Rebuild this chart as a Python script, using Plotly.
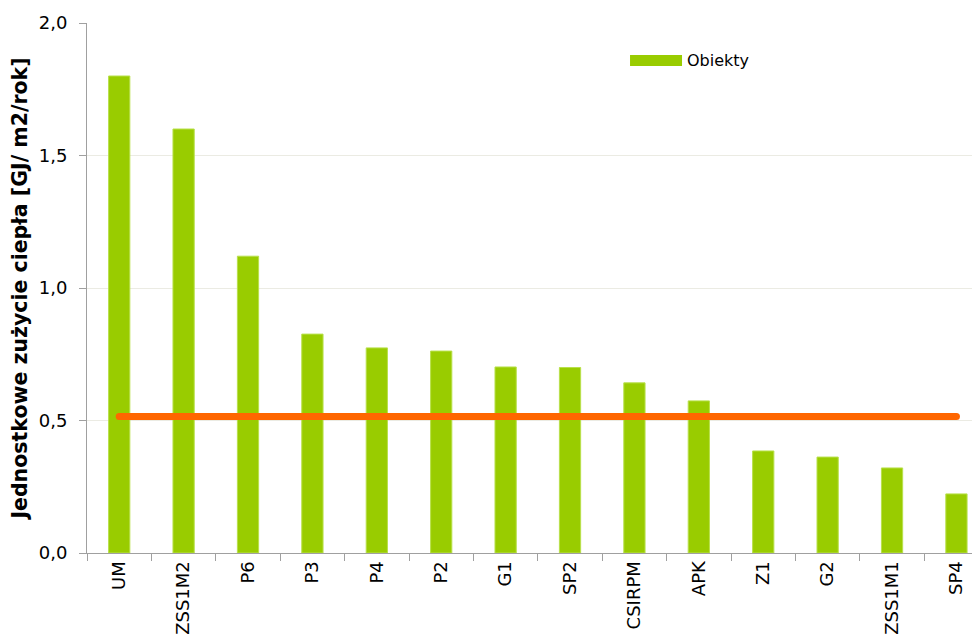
import plotly.graph_objects as go

categories = ["UM", "ZSS1M2", "P6", "P3", "P4", "P2", "G1", "SP2", "CSIRPM", "APK", "Z1", "G2", "ZSS1M1", "SP4"]
values = [1.80, 1.60, 1.12, 0.826, 0.774, 0.762, 0.702, 0.70, 0.642, 0.574, 0.385, 0.362, 0.321, 0.223]
average = 0.515
y_ticks = [0, 0.5, 1.0, 1.5, 2.0]
legend_label = "Obiekty"

FONT = "DejaVu Sans"
GREEN = "#99CC00"

fig = go.Figure()
fig.add_trace(go.Bar(
    x=categories, y=values, name=legend_label,
    marker=dict(color=GREEN, line=dict(color="#B8E04A", width=1)),
    width=0.33, showlegend=False,
))
fig.add_trace(go.Scatter(
    x=[categories[0], categories[-1]], y=[average, average],
    mode="lines+markers", line=dict(color="#FF6600", width=7),
    marker=dict(color="#FF6600", size=7),
    showlegend=False, hoverinfo="skip",
))

# legend (wide swatch as in the original)
fig.add_shape(type="rect", xref="paper", yref="paper",
              x0=0.6027, x1=0.6604, y0=0.919, y1=0.9396,
              fillcolor=GREEN, line=dict(width=0))
fig.add_annotation(text=legend_label, xref="paper", yref="paper",
                   x=0.664, y=0.930, xanchor="left", yanchor="middle",
                   showarrow=False, font=dict(size=16))

fig.update_layout(
    width=980, height=643,
    margin=dict(l=79, r=0, t=15, b=98),
    paper_bgcolor="white", plot_bgcolor="white",
    separators=", ",
    font=dict(family=FONT, size=17, color="#000000"),
    showlegend=False,
    bargap=0.67,
)
fig.update_xaxes(
    type="category", range=[-0.5, 13.49], automargin=False,
    tickangle=-90, tickson="boundaries", ticks="outside", ticklen=7,
    tickcolor="#A0A0A0", showline=True, linecolor="#A0A0A0", linewidth=1,
    showgrid=False, tickfont=dict(size=18),
)
fig.update_yaxes(
    range=[0, 2.0], tickvals=y_ticks, tickformat=".1f", automargin=False,
    ticks="outside", ticklen=7, tickcolor="#A0A0A0", ticklabelstandoff=8,
    showline=True, linecolor="#A0A0A0", linewidth=1,
    showgrid=True, gridcolor="#EBEBE3", gridwidth=1, zeroline=False,
    tickfont=dict(size=18),
    title=dict(text="<b>Jednostkowe zużycie ciepła [GJ/ m2/rok]</b>", font=dict(size=20.5), standoff=10),
)

fig.write_html("out.html")
